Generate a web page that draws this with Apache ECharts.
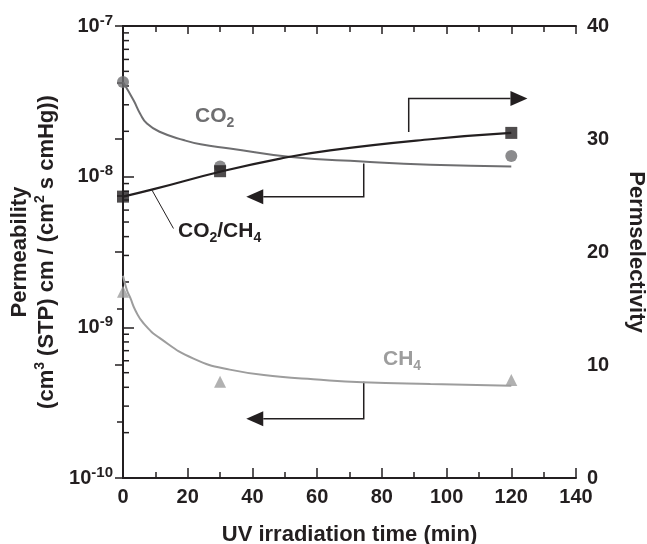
<!DOCTYPE html>
<html>
<head>
<meta charset="utf-8">
<script src="https://cdn.jsdelivr.net/npm/echarts@6/dist/echarts.min.js"></script>
<style>
  html, body { margin: 0; padding: 0; background: #fff; }
  #main { width: 647px; height: 544px; }
</style>
</head>
<body>
<div id="main"></div>
<script>
// measured points
var times = [0, 30, 120];
var co2Perm = [4.25e-8, 1.17e-8, 1.37e-8];
var ch4Perm = [1.72e-9, 4.36e-10, 4.47e-10];
var selectivity = [24.9, 27.15, 30.54];

// fitted curves
var co2FitT = [0, 3.3, 5.3, 7.4, 11.5, 18.7, 24, 33, 52, 74, 95, 120];
var co2FitV = [4.25e-8, 3.2e-8, 2.62e-8, 2.25e-8, 1.98e-8, 1.75e-8, 1.64e-8, 1.54e-8, 1.35e-8, 1.26e-8, 1.2e-8, 1.17e-8];
var ch4FitT = [0, 1.2, 2.3, 3.8, 6.4, 11.5, 21.8, 33, 48.6, 58.8, 74, 95, 120];
var ch4FitV = [2.2e-9, 1.77e-9, 1.56e-9, 1.3e-9, 1.06e-9, 8.45e-10, 6.2e-10, 5.24e-10, 4.7e-10, 4.52e-10, 4.32e-10, 4.2e-10, 4.1e-10];
var selFitT = [0, 9.5, 30, 48.6, 64, 95, 120];
var selFitV = [24.9, 25.56, 27.1, 28.27, 29.0, 29.98, 30.54];

// annotation arrows (data coords): left axis ones, right axis one
var arrowsLeft = [
    [[74.4, 1.224e-8], [74.4, 7.35e-9], [38.1, 7.35e-9]],
    [[74.4, 4.36e-10], [74.4, 2.47e-10], [38.1, 2.47e-10]]
];
var arrowsRight = [
    [[88.3, 30.63], [88.3, 33.58], [125, 33.58]]
];
var leaderLine = [[8.97, 25.47], [15.6, 22.08]];

var FONT = 'Liberation Sans, Arial, sans-serif';
var INK = '#231f20';
var CO2_COL = '#6e6e70';
var CH4_COL = '#9d9d9d';

function zip(a, b) {
    return a.map(function (v, i) { return [v, b[i]]; });
}

// log minor ticks 2..9 per decade
var logMinor = [];
[-10, -9, -8].forEach(function (d) {
    for (var k = 2; k <= 9; k++) logMinor.push(k * Math.pow(10, d));
});

function arrowRender(list, headArrow) {
    return function (params, api) {
        var pts = list[api.value(2)].map(function (p) { return api.coord(p); });
        var children = [];
        if (headArrow) {
            var n = pts.length;
            var tip = pts[n - 1], prev = pts[n - 2];
            var dx = tip[0] - prev[0], dy = tip[1] - prev[1];
            var len = Math.sqrt(dx * dx + dy * dy);
            var ux = dx / len, uy = dy / len;
            var hl = 17, hw = 7.5;
            var base = [tip[0] - ux * hl, tip[1] - uy * hl];
            var shaft = pts.slice(0, n - 1).concat([base]);
            children.push({
                type: 'polyline', shape: { points: shaft },
                style: { stroke: INK, lineWidth: 1.5, fill: null }
            });
            children.push({
                type: 'polygon',
                shape: { points: [tip, [base[0] - uy * hw, base[1] + ux * hw], [base[0] + uy * hw, base[1] - ux * hw]] },
                style: { fill: INK }
            });
        } else {
            children.push({
                type: 'polyline', shape: { points: pts },
                style: { stroke: INK, lineWidth: 1, fill: null }
            });
        }
        return { type: 'group', children: children };
    };
}

var supRich = {
    b: { fontSize: 20, fontWeight: 'bold', fontFamily: FONT, color: INK, lineHeight: 26 },
    s: { fontSize: 15, fontWeight: 'bold', fontFamily: FONT, color: INK, verticalAlign: 'top', lineHeight: 15 }
};

var titleRich = {
    t: { fontSize: 22, fontWeight: 'bold', fontFamily: FONT, color: INK, lineHeight: 27 },
    u: { fontSize: 14, fontWeight: 'bold', fontFamily: FONT, color: INK, verticalAlign: 'top', lineHeight: 13 }
};

function subRich(col) {
    return {
        n: { fontSize: 21, fontWeight: 'bold', fontFamily: FONT, fill: col, lineHeight: 28 },
        s: { fontSize: 14, fontWeight: 'bold', fontFamily: FONT, fill: col, verticalAlign: 'bottom', lineHeight: 14 }
    };
}

var myChart = echarts.init(document.getElementById('main'));
var option = {
    animation: false,
    backgroundColor: '#fff',
    grid: { left: 123, right: 71, top: 26, bottom: 66, outerBoundsMode: 'none', containLabel: false },
    xAxis: [
        {
            type: 'value', min: 0, max: 140, interval: 20,
            name: 'UV irradiation time (min)', nameLocation: 'middle', nameGap: 46,
            nameTextStyle: { fontSize: 22, fontWeight: 'bold', fontFamily: FONT, color: INK },
            axisLine: { lineStyle: { color: INK, width: 2 } },
            axisTick: { inside: true, length: 10, lineStyle: { color: INK, width: 1.5 } },
            minorTick: { show: true, splitNumber: 2, length: 6, lineStyle: { color: INK, width: 1.5 } },
            splitLine: { show: false },
            axisLabel: { margin: 9, fontSize: 20, fontWeight: 'bold', fontFamily: FONT, color: INK }
        },
        {
            type: 'value', min: 0, max: 140, interval: 20, position: 'top',
            axisLine: { lineStyle: { color: INK, width: 2 } },
            axisTick: { inside: true, length: 8, lineStyle: { color: INK, width: 1.5 } },
            minorTick: { show: true, splitNumber: 2, length: 6, lineStyle: { color: INK, width: 1.5 } },
            splitLine: { show: false },
            axisLabel: { show: false }
        }
    ],
    yAxis: [
        {
            type: 'log', logBase: 10, min: 1e-10, max: 1e-7, splitNumber: 3,
            name: '{t|Permeability}\n{t|(cm}{u|3}{t| (STP) cm / (cm}{u|2}{t| s cmHg))}',
            nameLocation: 'middle', nameRotate: 90, nameGap: 63,
            nameTextStyle: { rich: titleRich, align: 'center' },
            axisLine: { show: true, lineStyle: { color: INK, width: 2 } },
            axisTick: { inside: true, length: 11, lineStyle: { color: INK, width: 1.5 } },
            splitLine: { show: false },
            axisLabel: {
                margin: 10,
                formatter: function (v) {
                    return '{b|10}{s|' + Math.round(Math.log10(v)) + '}';
                },
                rich: supRich
            }
        },
        {
            type: 'value', min: 0, max: 40, interval: 10, position: 'right',
            name: 'Permselectivity', nameLocation: 'middle', nameRotate: -90, nameGap: 49,
            nameTextStyle: { fontSize: 22, fontWeight: 'bold', fontFamily: FONT, color: INK },
            axisLine: { show: true, lineStyle: { color: INK, width: 2 } },
            axisTick: { inside: true, length: 8, lineStyle: { color: INK, width: 1.5 } },
            minorTick: { show: true, splitNumber: 2, length: 6, lineStyle: { color: INK, width: 1.5 } },
            splitLine: { show: false },
            axisLabel: { margin: 11, fontSize: 20, fontWeight: 'bold', fontFamily: FONT, color: INK }
        }
    ],
    series: [
        {
            type: 'custom', yAxisIndex: 0, silent: true,
            data: logMinor.map(function (v) { return [0, v]; }),
            renderItem: function (params, api) {
                var p = api.coord([0, api.value(1)]);
                return {
                    type: 'line',
                    shape: { x1: p[0], y1: p[1], x2: p[0] + 6, y2: p[1] },
                    style: { stroke: INK, lineWidth: 1.5 }
                };
            }
        },
        {
            name: 'CO2 fit', type: 'line', yAxisIndex: 0, showSymbol: false,
            smooth: 0.5,
            data: zip(co2FitT, co2FitV),
            lineStyle: { color: CO2_COL, width: 2 }
        },
        {
            name: 'CH4 fit', type: 'line', yAxisIndex: 0, showSymbol: false,
            smooth: 0.5,
            data: zip(ch4FitT, ch4FitV),
            lineStyle: { color: CH4_COL, width: 2 }
        },
        {
            name: 'CO2/CH4 fit', type: 'line', yAxisIndex: 1, showSymbol: false,
            smooth: 0.5,
            data: zip(selFitT, selFitV),
            lineStyle: { color: INK, width: 2.2 }
        },
        {
            name: 'CO2', type: 'scatter', yAxisIndex: 0, symbol: 'circle', symbolSize: 12,
            data: zip(times, co2Perm), itemStyle: { color: CO2_COL }
        },
        {
            name: 'CH4', type: 'scatter', yAxisIndex: 0, symbol: 'triangle', symbolSize: 12,
            data: zip(times, ch4Perm), itemStyle: { color: CH4_COL }
        },
        {
            name: 'CO2/CH4', type: 'scatter', yAxisIndex: 1, symbol: 'rect', symbolSize: 12,
            data: zip(times, selectivity), itemStyle: { color: INK }
        },
        {
            type: 'custom', yAxisIndex: 0, silent: true,
            data: arrowsLeft.map(function (a, i) { return [a[0][0], a[0][1], i]; }),
            renderItem: arrowRender(arrowsLeft, true)
        },
        {
            type: 'custom', yAxisIndex: 1, silent: true,
            data: arrowsRight.map(function (a, i) { return [a[0][0], a[0][1], i]; }),
            renderItem: arrowRender(arrowsRight, true)
        },
        {
            type: 'custom', yAxisIndex: 1, silent: true,
            data: [[leaderLine[0][0], leaderLine[0][1], 0]],
            renderItem: arrowRender([leaderLine], false)
        }
    ],
    graphic: [
        {
            type: 'text', left: 195, top: 106,
            style: { text: '{n|CO}{s|2}', rich: subRich(CO2_COL) }
        },
        {
            type: 'text', left: 178, top: 221,
            style: { text: '{n|CO}{s|2}{n|/CH}{s|4}', rich: subRich(INK) }
        },
        {
            type: 'text', left: 383, top: 349,
            style: { text: '{n|CH}{s|4}', rich: subRich(CH4_COL) }
        }
    ]
};
myChart.setOption(option, true);
</script>
</body>
</html>
